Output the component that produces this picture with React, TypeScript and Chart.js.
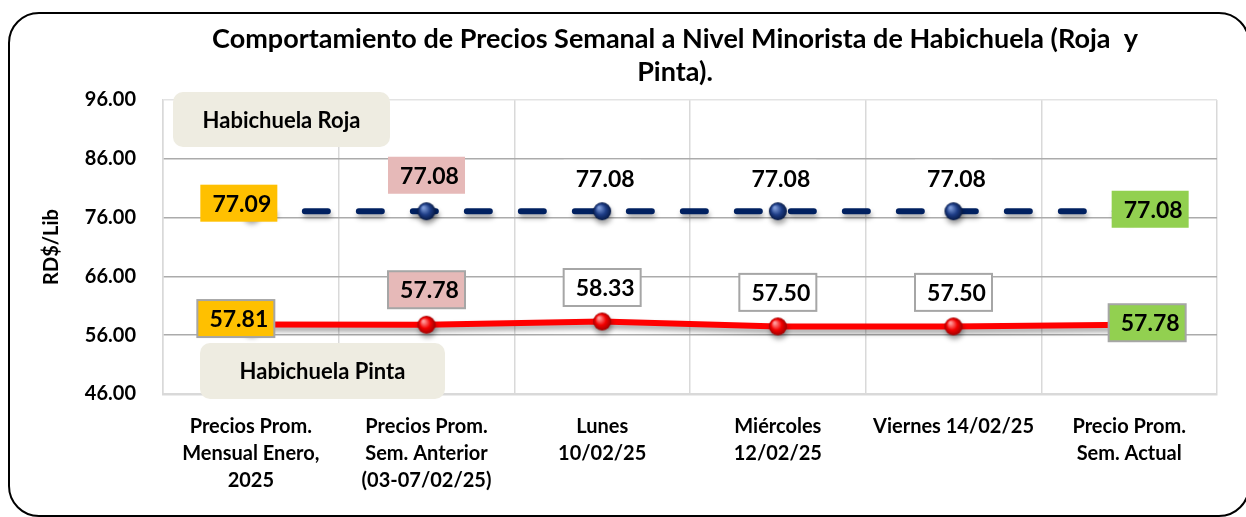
import { useEffect, useRef } from 'react';
import { Chart, registerables } from 'chart.js';

Chart.register(...registerables);

const categories: string[][] = [
  ['Precios Prom.', 'Mensual Enero,', '2025'],
  ['Precios Prom.', 'Sem. Anterior', '(03-07/02/25)'],
  ['Lunes', '10/02/25'],
  ['Miércoles', '12/02/25'],
  ['Viernes 14/02/25'],
  ['Precio Prom.', 'Sem. Actual'],
];
const rojaValues = [77.09, 77.08, 77.08, 77.08, 77.08, 77.08];
const pintaValues = [57.81, 57.78, 58.33, 57.5, 57.5, 57.78];
const yTicks = [46, 56, 66, 76, 86, 96];
const seriesNames = ['Habichuela Roja', 'Habichuela Pinta'];
const titleLines = [
  'Comportamiento de Precios Semanal a Nivel Minorista de Habichuela (Roja  y',
  'Pinta).',
];
const yAxisTitle = 'RD$/Lib';
const labelFills = ['#FFC000', '#E6B9B8', '#FFFFFF', '#FFFFFF', '#FFFFFF', '#92D050'];

const FONT = 'Lato, "Open Sans", sans-serif';

function makeSphere(r: number, light: string, mid: string, dark: string) {
  const c = document.createElement('canvas');
  const s = r * 2 + 2;
  c.width = s;
  c.height = s;
  const g = c.getContext('2d')!;
  const cx = s / 2;
  const grad = g.createRadialGradient(cx - r * 0.35, cx - r * 0.4, r * 0.1, cx, cx, r);
  grad.addColorStop(0, light);
  grad.addColorStop(0.55, mid);
  grad.addColorStop(1, dark);
  g.fillStyle = grad;
  g.beginPath();
  g.arc(cx, cx, r, 0, Math.PI * 2);
  g.fill();
  return c;
}

export default function App() {
  const ref = useRef<HTMLCanvasElement | null>(null);

  useEffect(() => {
    const canvas = ref.current!;
    const blueBall = makeSphere(9, '#7C9AD8', '#1D3C85', '#071A45');
    const redBall = makeSphere(9, '#FF9A9A', '#F20000', '#9E0000');

    // label box offsets relative to data point (styling only)
    const labelOffsets = [
      [[-12, -8], [0, -36], [0, -33], [0, -33], [0, -33], [21, -2]],
      [[-15, -6], [0, -35], [0, -34], [0, -34], [0, -34], [18, -2]],
    ];

    const shadowPlugin = {
      id: 'lineShadow',
      beforeDatasetDraw(chart: any) {
        const ctx = chart.ctx;
        ctx.save();
        ctx.shadowColor = 'rgba(0,0,0,0.35)';
        ctx.shadowBlur = 5;
        ctx.shadowOffsetX = 1;
        ctx.shadowOffsetY = 4;
      },
      afterDatasetDraw(chart: any) {
        chart.ctx.restore();
      },
    };

    const decoPlugin = {
      id: 'deco',
      beforeDraw(chart: any) {
        const ctx = chart.ctx;
        ctx.save();
        ctx.fillStyle = '#FFFFFF';
        ctx.fillRect(0, 0, chart.width, chart.height);
        ctx.restore();
      },
      afterDatasetsDraw(chart: any) {
        const ctx = chart.ctx;
        ctx.save();
        ctx.font = `bold 23px ${FONT}`;
        ctx.textAlign = 'center';
        ctx.textBaseline = 'middle';
        chart.data.datasets.forEach((ds: any, di: number) => {
          const meta = chart.getDatasetMeta(di);
          meta.data.forEach((pt: any, i: number) => {
            const [dx, dy] = labelOffsets[di][i];
            const cx = pt.x + dx;
            const cy = pt.y + dy;
            const w = 77;
            const h = 37;
            ctx.fillStyle = labelFills[i];
            ctx.fillRect(cx - w / 2, cy - h / 2, w, h);
            if (di === 1) {
              ctx.strokeStyle = '#A6A6A6';
              ctx.lineWidth = 2;
              ctx.strokeRect(cx - w / 2, cy - h / 2, w, h);
            }
            ctx.fillStyle = '#000000';
            ctx.fillText((ds.data[i] as number).toFixed(2), cx + 3, cy + 1);
          });
        });
        ctx.restore();
      },
      afterDraw(chart: any) {
        const ctx = chart.ctx;
        ctx.save();
        // title
        ctx.fillStyle = '#000000';
        ctx.font = `bold 27px ${FONT}`;
        ctx.textAlign = 'center';
        ctx.textBaseline = 'middle';
        ctx.fillText(titleLines[0], 675, 39);
        ctx.fillText(titleLines[1], 675, 72);
        // series name boxes
        const boxes = [
          { x: 173, y: 92, w: 217, h: 55, name: seriesNames[0] },
          { x: 200, y: 343, w: 245, h: 56, name: seriesNames[1] },
        ];
        boxes.forEach((b) => {
          ctx.fillStyle = '#EEECE1';
          ctx.beginPath();
          ctx.roundRect(b.x, b.y, b.w, b.h, 10);
          ctx.fill();
          ctx.fillStyle = '#000000';
          ctx.font = `bold 22px ${FONT}`;
          ctx.fillText(b.name, b.x + b.w / 2, b.y + b.h / 2 + 1);
        });
        // outer rounded border
        ctx.strokeStyle = '#000000';
        ctx.lineWidth = 2;
        ctx.beginPath();
        ctx.roundRect(9, 13, 1240, 503, 30);
        ctx.stroke();
        ctx.restore();
      },
    };

    const chart = new Chart(canvas, {
      type: 'line',
      data: {
        labels: categories,
        datasets: [
          {
            label: seriesNames[0],
            data: rojaValues,
            borderColor: '#002060',
            borderWidth: 6,
            borderDash: [23, 31],
            borderCapStyle: 'round',
            pointStyle: blueBall,
            pointRadius: 9,
            tension: 0,
          },
          {
            label: seriesNames[1],
            data: pintaValues,
            borderColor: '#FF0000',
            borderWidth: 6,
            pointStyle: redBall,
            pointRadius: 9,
            tension: 0,
          },
        ],
      },
      options: {
        responsive: false,
        animation: false,
        layout: { padding: { left: 40, right: 29, top: 100, bottom: 0 } },
        plugins: {
          legend: { display: false },
          title: { display: false },
          tooltip: { enabled: false },
        },
        scales: {
          x: {
            offset: true,
            grid: { offset: true, color: '#D9D9D9', lineWidth: 1.5, drawTicks: false },
            border: { color: '#D9D9D9', width: 2.5 },
            ticks: {
              color: '#000000',
              font: { family: FONT, size: 20, weight: 'bold', lineHeight: 1.35 },
              padding: 19,
              maxRotation: 0,
              autoSkip: false,
            },
            afterFit(scale: any) {
              scale.height = 123;
            },
          },
          y: {
            min: 46,
            max: 96,
            afterBuildTicks(scale: any) {
              scale.ticks = yTicks.map((v) => ({ value: v }));
            },
            grid: {
              color: (c: any) => (c.tick && c.tick.value === 96 ? '#E3E3E3' : '#ABABAB'),
              lineWidth: 1.5,
              drawTicks: false,
            },
            border: { color: '#D9D9D9', width: 1.5 },
            ticks: {
              color: '#000000',
              font: { family: FONT, size: 20, weight: 'bold' },
              padding: 27,
              callback: (v: any) => Number(v).toFixed(2),
            },
            title: {
              display: true,
              text: yAxisTitle,
              color: '#000000',
              font: { family: FONT, size: 20, weight: 'bold', lineHeight: 1.2 },
              padding: 0,
            },
            afterFit(scale: any) {
              scale.width = 123;
            },
          },
        },
      },
      plugins: [shadowPlugin, decoPlugin],
    } as any);

    return () => chart.destroy();
  }, []);

  return (
    <div style={{ position: 'fixed', left: 0, top: 0, width: 1246, height: 517, background: '#fff' }}>
      <canvas ref={ref} width={1246} height={517} style={{ width: 1246, height: 517, display: 'block' }} />
    </div>
  );
}
